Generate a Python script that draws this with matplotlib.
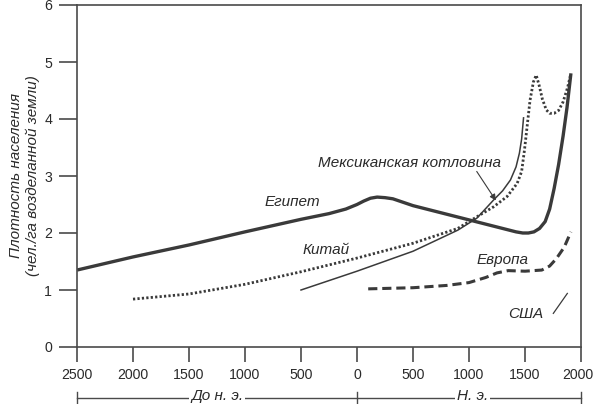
import numpy as np
import matplotlib
matplotlib.use('Agg')
from matplotlib import pyplot as plt
from matplotlib import transforms

# years: negative = BC
egypt_x = [-2500, -2000, -1500, -1000, -500, -250, -100, 0, 60, 120, 180, 250, 320, 500,
           1000, 1300, 1420, 1480, 1530, 1580, 1630, 1680, 1720, 1760, 1800, 1840,
           1875, 1910]
egypt_y = [1.35, 1.58, 1.79, 2.02, 2.24, 2.34, 2.42, 2.5, 2.56, 2.61, 2.63, 2.62, 2.6, 2.48,
           2.23, 2.08, 2.02, 2.0, 2.0, 2.02, 2.08, 2.2, 2.42, 2.78, 3.2, 3.7, 4.2, 4.8]

mexico_x = [-500, 0, 500, 900, 1070, 1220, 1300, 1370, 1420, 1450, 1470, 1487]
mexico_y = [1.0, 1.33, 1.68, 2.05, 2.26, 2.58, 2.74, 2.93, 3.16, 3.4, 3.65, 4.02]

china_x = [-2000, -1500, -1000, -500, 0, 500, 900, 1100, 1220, 1340, 1430, 1470, 1495,
           1515, 1545, 1575, 1600, 1625, 1655, 1690, 1720, 1760, 1800, 1840, 1880, 1910]
china_y = [0.84, 0.93, 1.1, 1.32, 1.56, 1.82, 2.08, 2.32, 2.46, 2.64, 2.87, 3.08, 3.45,
           3.8, 4.33, 4.65, 4.77, 4.6, 4.35, 4.16, 4.1, 4.1, 4.15, 4.3, 4.55, 4.8]

europe_x = [100, 500, 800, 1000, 1150, 1250, 1350, 1500, 1650, 1720, 1780, 1850, 1910]
europe_y = [1.02, 1.04, 1.08, 1.13, 1.22, 1.3, 1.34, 1.33, 1.35, 1.42, 1.55, 1.75, 2.02]

usa_x = [1753, 1878]
usa_y = [0.59, 0.94]

xticks = [-2500, -2000, -1500, -1000, -500, 0, 500, 1000, 1500, 2000]
xtick_labels = ['2500', '2000', '1500', '1000', '500', '0', '500', '1000', '1500', '2000']
yticks = [0, 1, 2, 3, 4, 5, 6]

ink = '#3a3a3a'
axis_col = '#4a4a4a'
txt = '#2a2a2a'

plt.rcParams['font.family'] = ['Liberation Sans', 'DejaVu Sans']
fig = plt.figure(figsize=(5.95, 4.04), dpi=100)
ax = fig.add_axes([77/595, 57/404, 504/595, 342/404])

ax.plot(egypt_x, egypt_y, color=ink, lw=2.4, solid_capstyle='butt', solid_joinstyle='round')
ax.plot(mexico_x, mexico_y, color=ink, lw=1.1, solid_joinstyle='round')
ax.plot(china_x, china_y, color=ink, lw=2.0, linestyle=(0, (0.8, 0.8)))
ax.plot(europe_x, europe_y, color=ink, lw=2.2, linestyle=(0, (3, 1.6)))
ax.plot(usa_x, usa_y, color=ink, lw=0.9)

lab = dict(fontsize=11, style='italic', color=txt, ha='center', va='center')
ax.text(-580, 2.55, 'Египет', **lab)
ax.text(-280, 1.7, 'Китай', **lab)
ax.text(1300, 1.53, 'Европа', **lab)
ax.text(1505, 0.58, 'США', **lab)
ax.text(470, 3.23, 'Мексиканская котловина', **lab)
ax.annotate('', xy=(1240, 2.57), xytext=(1069, 3.08),
            arrowprops=dict(arrowstyle='-|>', color=ink, lw=0.8,
                            mutation_scale=9, shrinkA=0, shrinkB=0))

ax.set_xlim(-2500, 2000)
ax.set_ylim(0, 6)
ax.set_xticks(xticks)
ax.set_xticklabels(xtick_labels)
ax.set_yticks(yticks)
for s in ax.spines.values():
    s.set_color(axis_col)
    s.set_linewidth(1.2)
ax.tick_params(axis='x', direction='out', length=11, width=1.2, color=axis_col,
               labelsize=10.2, labelcolor=txt, pad=4)
ax.tick_params(axis='y', direction='out', length=13, width=1.2, color=axis_col,
               labelsize=10.2, labelcolor=txt, pad=5)
# keep the last year label inside the picture
last = ax.get_xticklabels()[-1]
last.set_transform(last.get_transform() +
                   transforms.ScaledTranslation(-3/100, 0, fig.dpi_scale_trans))

ax.set_ylabel('Плотность населения\n(чел./га возделанной земли)', fontsize=11,
              style='italic', color=txt, labelpad=3, linespacing=1.2)

# era brackets below axis
trans = transforms.blended_transform_factory(ax.transData, ax.transAxes)
yb = -0.149
ax.plot([-2500, 2000], [yb, yb], color=axis_col, lw=1.0, transform=trans, clip_on=False)
for xv in [-2500, 0, 2000]:
    ax.plot([xv, xv], [yb - 0.018, yb + 0.018], color=axis_col, lw=1.0,
            transform=trans, clip_on=False)
era = dict(fontsize=11, style='italic', color=txt, ha='center', va='center',
           transform=trans, bbox=dict(facecolor='white', edgecolor='none', pad=1.5))
ax.text(-1250, yb + 0.006, 'До н. э.', **era)
ax.text(1030, yb + 0.006, 'Н. э.', **era)

fig.savefig('out.png', dpi=100)
